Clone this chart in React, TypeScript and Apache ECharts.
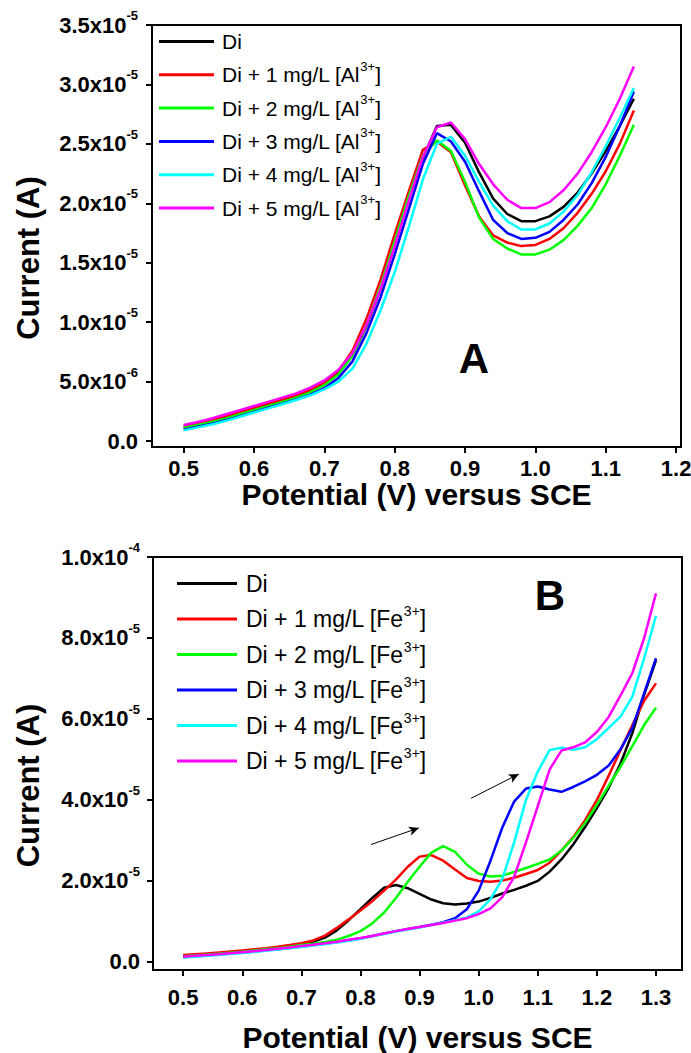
import React, { useEffect, useRef } from "react";
import * as echarts from "echarts";

// ---------- Panel A data (current in µA) ----------
const potentialA = [0.5, 0.52, 0.54, 0.56, 0.58, 0.6, 0.62, 0.64, 0.66, 0.68, 0.7, 0.72, 0.74, 0.76, 0.78, 0.8, 0.82, 0.84, 0.86, 0.88, 0.9, 0.92, 0.94, 0.96, 0.98, 1.0, 1.02, 1.04, 1.06, 1.08, 1.1, 1.12, 1.14];
const diA = [1.15, 1.4, 1.7, 2.0, 2.35, 2.7, 3.05, 3.4, 3.75, 4.2, 4.8, 5.7, 7.2, 9.7, 12.8, 16.5, 20.3, 23.8, 26.5, 26.6, 25.1, 22.6, 20.4, 19.1, 18.5, 18.5, 18.9, 19.7, 20.9, 22.5, 24.4, 26.5, 28.8];
const al1 = [1.2, 1.45, 1.75, 2.1, 2.45, 2.8, 3.15, 3.5, 3.85, 4.3, 4.9, 5.9, 7.6, 10.3, 13.6, 17.4, 21.0, 24.5, 25.2, 24.3, 21.5, 18.9, 17.3, 16.7, 16.4, 16.5, 17.0, 17.9, 19.2, 20.8, 22.7, 25.0, 27.8];
const al2 = [1.1, 1.35, 1.6, 1.9, 2.25, 2.6, 2.95, 3.3, 3.65, 4.1, 4.7, 5.6, 7.2, 9.8, 13.0, 16.8, 20.6, 24.0, 25.3, 24.4, 21.8, 18.8, 17.0, 16.2, 15.7, 15.7, 16.1, 16.9, 18.1, 19.6, 21.6, 24.0, 26.6];
const al3 = [0.95, 1.2, 1.45, 1.75, 2.1, 2.45, 2.8, 3.15, 3.5, 3.9, 4.45, 5.3, 6.7, 9.1, 12.1, 15.7, 19.5, 23.3, 25.9, 25.2, 23.5, 21.0, 18.6, 17.5, 17.0, 17.1, 17.6, 18.6, 19.9, 21.7, 23.9, 26.5, 29.4];
const al4 = [0.9, 1.15, 1.4, 1.7, 2.05, 2.4, 2.75, 3.1, 3.45, 3.85, 4.35, 5.0, 6.1, 8.2, 11.0, 14.2, 18.0, 22.0, 25.0, 25.6, 24.0, 21.8, 19.8, 18.5, 17.8, 17.8, 18.3, 19.3, 20.7, 22.6, 24.8, 27.2, 29.7];
const al5 = [1.35, 1.6, 1.9, 2.25, 2.6, 2.95, 3.3, 3.65, 4.0, 4.5, 5.1, 6.0, 7.4, 9.8, 12.8, 16.4, 20.2, 23.9, 26.4, 26.8, 25.4, 23.3, 21.6, 20.3, 19.6, 19.6, 20.1, 21.1, 22.5, 24.3, 26.4, 28.8, 31.5];
const namesA = ["Di", "Di + 1 mg/L [Al3+]", "Di + 2 mg/L [Al3+]", "Di + 3 mg/L [Al3+]", "Di + 4 mg/L [Al3+]", "Di + 5 mg/L [Al3+]"];

// ---------- Panel B data (current in µA) ----------
const potentialB = [0.5, 0.52, 0.54, 0.56, 0.58, 0.6, 0.62, 0.64, 0.66, 0.68, 0.7, 0.72, 0.74, 0.76, 0.78, 0.8, 0.82, 0.84, 0.86, 0.88, 0.9, 0.92, 0.94, 0.96, 0.98, 1.0, 1.02, 1.04, 1.06, 1.08, 1.1, 1.12, 1.14, 1.16, 1.18, 1.2, 1.22, 1.24, 1.26, 1.28, 1.3];
const diB = [1.5, 1.7, 1.9, 2.1, 2.35, 2.6, 2.9, 3.2, 3.5, 3.9, 4.4, 5.0, 6.0, 7.8, 10.3, 13.0, 15.8, 18.3, 19.0, 18.2, 16.8, 15.4, 14.5, 14.2, 14.4, 14.9, 15.8, 16.9, 17.8, 18.8, 20.0, 22.3, 25.3, 29.0, 33.3, 38.0, 43.0, 49.0, 56.5, 66.0, 74.5];
const fe1 = [1.7, 1.9, 2.1, 2.3, 2.55, 2.8, 3.1, 3.4, 3.75, 4.15, 4.6, 5.3, 6.5, 8.4, 10.5, 12.7, 15.0, 17.6, 20.3, 23.5, 26.0, 26.4, 25.0, 22.8, 20.7, 20.0, 19.8, 20.1, 20.8, 21.7, 22.7, 24.5, 27.5, 30.8, 35.0, 40.0, 46.0, 52.3, 58.5, 64.5, 68.8];
const fe2 = [1.4, 1.6, 1.8, 2.0, 2.25, 2.5, 2.8, 3.1, 3.4, 3.75, 4.15, 4.5, 4.9, 5.5, 6.4, 7.6, 9.5, 12.2, 15.8, 19.8, 23.5, 27.0, 28.6, 27.2, 24.0, 21.8, 21.1, 21.3, 22.2, 23.2, 24.2, 25.3, 27.5, 30.6, 34.3, 38.8, 43.5, 48.2, 53.3, 58.5, 62.8];
const fe3 = [1.2, 1.4, 1.6, 1.8, 2.05, 2.3, 2.55, 2.85, 3.15, 3.45, 3.8, 4.15, 4.5, 4.9, 5.35, 5.8, 6.4, 7.0, 7.6, 8.1, 8.6, 9.2, 9.8, 10.8, 13.0, 17.6, 25.0, 33.2, 39.6, 42.8, 43.3, 42.6, 42.0, 43.2, 44.6, 46.2, 48.5, 52.5, 57.8, 66.4, 75.0];
const fe4 = [1.1, 1.3, 1.5, 1.7, 1.95, 2.2, 2.45, 2.75, 3.05, 3.35, 3.7, 4.05, 4.4, 4.8, 5.25, 5.7, 6.3, 6.9, 7.5, 8.0, 8.5, 9.1, 9.7, 10.3, 11.0, 12.5, 15.5, 20.5, 29.5, 40.0, 47.0, 52.3, 52.9, 52.4, 53.0, 55.0, 57.8, 60.6, 65.5, 75.0, 85.5];
const fe5 = [1.3, 1.5, 1.7, 1.9, 2.15, 2.4, 2.65, 2.95, 3.25, 3.55, 3.9, 4.25, 4.6, 5.0, 5.45, 5.9, 6.4, 7.0, 7.6, 8.1, 8.6, 9.1, 9.6, 10.2, 10.8, 11.8, 13.2, 16.0, 21.0, 29.5, 38.5, 47.5, 52.2, 53.0, 54.2, 56.8, 60.5, 65.8, 71.3, 80.0, 91.0];
const namesB = ["Di", "Di + 1 mg/L [Fe3+]", "Di + 2 mg/L [Fe3+]", "Di + 3 mg/L [Fe3+]", "Di + 4 mg/L [Fe3+]", "Di + 5 mg/L [Fe3+]"];

// arrows in panel B: [start, end] in (V, A)
const arrowsB: number[][][] = [
  [[0.818, 2.9e-5], [0.899, 3.31e-5]],
  [[0.987, 4.04e-5], [1.068, 4.64e-5]],
];

// ticks
const xTicksA = [0.5, 0.6, 0.7, 0.8, 0.9, 1.0, 1.1, 1.2];
const yTicksA = [0, 5e-6, 1e-5, 1.5e-5, 2e-5, 2.5e-5, 3e-5, 3.5e-5];
const xTicksB = [0.5, 0.6, 0.7, 0.8, 0.9, 1.0, 1.1, 1.2, 1.3];
const yTicksB = [0, 2e-5, 4e-5, 6e-5, 8e-5, 1e-4];

const colors = ["#000000", "#ff0000", "#00ff00", "#0000ff", "#00ffff", "#ff00ff"];
const FONT = "'Liberation Sans', Arial, Helvetica, sans-serif";
const UA = 1e-6;

function sciLabel(v: number): string {
  if (Math.abs(v) < 1e-12) return "{b|0.0}";
  const e = Math.floor(Math.log10(v) + 1e-9);
  const m = Math.round((v / Math.pow(10, e)) * 10) / 10;
  return `{b|${m.toFixed(1)}x10}{s|${e}}`;
}

function legendLabel(name: string): string {
  const idx = name.indexOf("3+]");
  if (idx < 0) return `{t|${name}}`;
  return `{t|${name.slice(0, idx)}}{s|3+}{t|]}`;
}

const yRich = {
  b: { fontSize: 22, fontWeight: "bold", fontFamily: FONT, color: "#000", lineHeight: 32 },
  s: { fontSize: 13, fontWeight: "bold", fontFamily: FONT, color: "#000", lineHeight: 13, verticalAlign: "top" },
};
const legendRich = (size: number, sup: number) => ({
  t: { fontSize: size, fontFamily: FONT, color: "#000", lineHeight: 30 },
  s: { fontSize: sup, fontFamily: FONT, color: "#000", lineHeight: sup, verticalAlign: "top" },
});

export default function App() {
  const ref = useRef<HTMLDivElement>(null);
  useEffect(() => {
    document.body.style.margin = "0";
    if (!ref.current) return;
    const chart = echarts.init(ref.current, undefined, { renderer: "svg" });

    const mk = (xs: number[], ys: number[]) => xs.map((x, i) => [x, ys[i] * UA]);
    const seriesA = [diA, al1, al2, al3, al4, al5].map((ys, i) => ({
      type: "line",
      name: namesA[i],
      xAxisIndex: 0,
      yAxisIndex: 0,
      data: mk(potentialA, ys),
      symbol: "none",
      showSymbol: false,
      lineStyle: { width: 2.5, color: colors[i] },
      itemStyle: { color: colors[i] },
    }));
    const seriesB: any[] = [diB, fe1, fe2, fe3, fe4, fe5].map((ys, i) => ({
      type: "line",
      name: namesB[i],
      xAxisIndex: 1,
      yAxisIndex: 1,
      data: mk(potentialB, ys),
      symbol: "none",
      showSymbol: false,
      lineStyle: { width: 2.5, color: colors[i] },
      itemStyle: { color: colors[i] },
    }));
    seriesB[0].markLine = {
      silent: true,
      symbol: ["none", "arrow"],
      symbolSize: [7, 10],
      label: { show: false },
      lineStyle: { color: "#000", width: 1, type: "solid" },
      data: arrowsB.map(([a, b]) => [{ coord: a }, { coord: b }]),
    };

    const xAxisCommon = (min: number, max: number, ticks: number[], gridIndex: number, labelMargin: number, nameGap: number) => ({
      type: "value",
      gridIndex,
      min,
      max,
      name: "Potential (V) versus SCE",
      nameLocation: "middle",
      nameGap,
      nameTextStyle: { fontSize: 30, fontWeight: "bold", fontFamily: FONT, color: "#000", lineHeight: 30 },
      axisLine: { show: true, onZero: false, lineStyle: { color: "#000", width: 2 } },
      axisTick: { show: true, inside: false, length: 6, lineStyle: { color: "#000", width: 2 }, customValues: ticks },
      axisLabel: {
        show: true,
        margin: labelMargin,
        customValues: ticks,
        formatter: (v: number) => v.toFixed(1),
        fontSize: 22,
        fontWeight: "bold",
        fontFamily: FONT,
        color: "#000",
      },
      splitLine: { show: false },
    });
    const yAxisCommon = (min: number, max: number, ticks: number[], gridIndex: number, labelMargin: number, nameGap: number) => ({
      type: "value",
      gridIndex,
      min,
      max,
      name: "Current (A)",
      nameLocation: "middle",
      nameGap,
      nameTextStyle: { fontSize: 31, fontWeight: "bold", fontFamily: FONT, color: "#000", padding: [0, 44, 0, 0] },
      axisLine: { show: true, onZero: false, lineStyle: { color: "#000", width: 2 } },
      axisTick: { show: true, inside: false, length: 6, lineStyle: { color: "#000", width: 2 }, customValues: ticks },
      axisLabel: {
        show: true,
        margin: labelMargin,
        customValues: ticks,
        formatter: sciLabel,
        rich: yRich,
      },
      splitLine: { show: false },
    });

    const legendCommon = (names: string[], left: number, top: number, gap: number, w: number, size: number, sup: number, pad: number) => ({
      orient: "vertical",
      left,
      top,
      padding: 0,
      itemGap: gap,
      itemWidth: w,
      itemHeight: 3,
      icon: "rect",
      selectedMode: false,
      data: names.map((n) => ({ name: n, icon: "rect" })),
      formatter: legendLabel,
      textStyle: { rich: legendRich(size, sup), padding: [0, 0, 0, pad] },
    });

    chart.setOption({
      animation: false,
      backgroundColor: "#fff",
      grid: [
        { left: 152, top: 25, width: 529, height: 422, show: true, borderColor: "#000", borderWidth: 2, containLabel: false, outerBoundsMode: "none" },
        { left: 153, top: 557, width: 529, height: 413, show: true, borderColor: "#000", borderWidth: 2, containLabel: false, outerBoundsMode: "none" },
      ],
      xAxis: [
        xAxisCommon(0.455, 1.207, xTicksA, 0, 10, 30),
        xAxisCommon(0.449, 1.344, xTicksB, 1, 16, 52),
      ],
      yAxis: [
        yAxisCommon(-5e-7, 3.5e-5, yTicksA, 0, 14, 108),
        yAxisCommon(-2e-6, 1e-4, yTicksB, 1, 13, 109),
      ],
      legend: [
        legendCommon(namesA, 159, 31, 7.8, 55, 21, 13, 3),
        legendCommon(namesB, 177, 572, 9, 60, 23, 14, 4),
      ],
      graphic: [
        { type: "text", x: 474, y: 358, style: { text: "A", fontSize: 42, fontWeight: "bold", fontFamily: FONT, fill: "#000", align: "center", verticalAlign: "middle" } },
        { type: "text", x: 550, y: 595, style: { text: "B", fontSize: 42, fontWeight: "bold", fontFamily: FONT, fill: "#000", align: "center", verticalAlign: "middle" } },
      ],
      series: [...seriesA, ...seriesB],
    });
    return () => chart.dispose();
  }, []);
  return <div ref={ref} style={{ position: "fixed", left: 0, top: 0, width: 691, height: 1053 }} />;
}
